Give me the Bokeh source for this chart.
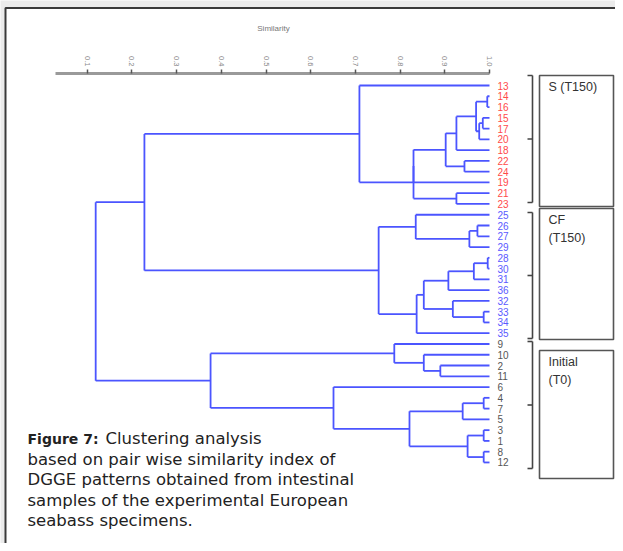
import math
from bokeh.plotting import figure
from bokeh.models import Range1d, LinearAxis, FixedTicker, NumeralTickFormatter
from bokeh.core.properties import value
from bokeh.embed import file_html
from bokeh.resources import INLINE

# ---------------- data ----------------
leaf_order = ["13", "14", "16", "15", "17", "20", "18", "22", "24", "19", "21", "23",
              "25", "26", "27", "29", "28", "30", "31", "36", "32", "33", "34", "35",
              "9", "10", "2", "11", "6", "4", "7", "5", "3", "1", "8", "12"]
group_S = ["13", "14", "15", "16", "17", "18", "19", "20", "21", "22", "23", "24"]
group_CF = ["25", "26", "27", "28", "29", "30", "31", "32", "33", "34", "35", "36"]
group_init = ["1", "2", "3", "4", "5", "6", "7", "8", "9", "10", "11", "12"]

# merges: (node, child a, child b, similarity)
merges = [
    ("m1", "14", "16", 0.995), ("m2", "15", "17", 0.985), ("m3", "m2", "20", 0.977),
    ("m4", "m1", "m3", 0.970), ("m5", "m4", "18", 0.926), ("m6", "22", "24", 0.944),
    ("m7", "m5", "m6", 0.902), ("m8", "m7", "19", 0.830), ("m9", "21", "23", 0.926),
    ("m10", "m8", "m9", 0.830), ("m11", "13", "m10", 0.709),
    ("c1", "26", "27", 0.973), ("c2", "c1", "29", 0.955), ("c3", "25", "c2", 0.835),
    ("c4", "28", "30", 0.996), ("c5", "c4", "31", 0.965), ("c6", "c5", "36", 0.908),
    ("c7", "33", "34", 0.987), ("c8", "32", "c7", 0.918), ("c9", "c6", "c8", 0.853),
    ("c10", "c9", "35", 0.837), ("c11", "c3", "c10", 0.752),
    ("sc", "m11", "c11", 0.228),
    ("i1", "2", "11", 0.890), ("i2", "10", "i1", 0.853), ("i3", "9", "i2", 0.787),
    ("i4", "4", "7", 0.987), ("i5", "i4", "5", 0.940), ("i6", "3", "1", 0.987),
    ("i7", "8", "12", 0.987), ("i8", "i6", "i7", 0.951), ("i9", "i5", "i8", 0.821),
    ("i10", "6", "i9", 0.651), ("i11", "i3", "i10", 0.376),
    ("root", "sc", "i11", 0.119),
]
sim_ticks = [0.1, 0.2, 0.3, 0.4, 0.5, 0.6, 0.7, 0.8, 0.9, 1.0]
group_names = [["S (T150)"], ["CF", "(T150)"], ["Initial", "(T0)"]]
caption_bold = "Figure 7:"
caption_lines = ["Clustering analysis",
                 "based on pair wise similarity index of",
                 "DGGE patterns obtained from intestinal",
                 "samples of the experimental European",
                 "seabass specimens."]

# ---------------- layout helpers ----------------
W, H = 615, 543
PX_PER_UNIT = 447.0      # pixels per 1.0 similarity
ROW = 10.77              # pixels per leaf row
def px2x(px):            # picture pixel -> similarity coordinate
    return 0.1 + (px - 86.7) / PX_PER_UNIT
def py2y(py):            # picture pixel -> row coordinate
    return (py - 85.0) / ROW

p = figure(width=W, height=H, output_backend="svg", toolbar_location=None,
           x_axis_type=None, y_axis_type=None,
           x_range=Range1d(px2x(0), px2x(W)),
           y_range=Range1d(py2y(H), py2y(0)),
           min_border=0, min_border_left=0, min_border_right=0,
           min_border_top=0, min_border_bottom=0)
p.outline_line_color = None
p.grid.visible = False
p.background_fill_color = "#ebebeb"
p.border_fill_color = "#ebebeb"

# white panel with dark border (right/bottom edges lie outside the picture)
p.quad(left=[px2x(5)], right=[px2x(900)], top=[py2y(7.5)], bottom=[py2y(900)],
       fill_color="white", line_color="#3a3a3a", line_width=2)

# ---------------- dendrogram ----------------
ypos = {lab: i for i, lab in enumerate(leaf_order)}
xpos = {lab: 1.0 for lab in leaf_order}
x0, y0, x1, y1 = [], [], [], []
for node, a, b, s in merges:
    ya, yb = ypos[a], ypos[b]
    x0 += [s, s, s]; x1 += [s, xpos[a], xpos[b]]
    y0 += [ya, ya, yb]; y1 += [yb, ya, yb]
    ypos[node] = (ya + yb) / 2.0
    xpos[node] = s
p.segment(x0=x0, y0=y0, x1=x1, y1=y1, line_color="#4b55ff", line_width=1.8)

# leaf labels
colors = []
for lab in leaf_order:
    if lab in group_S:
        colors.append("#ff4a4a")
    elif lab in group_CF:
        colors.append("#5a5aff")
    else:
        colors.append("#555555")
p.text(x=[px2x(497)] * len(leaf_order), y=list(range(len(leaf_order))), text=leaf_order,
       text_color=colors, text_font=value("Liberation Sans"), text_font_size="10px",
       text_baseline="middle", text_align="left")

# similarity axis
ax = LinearAxis(fixed_location=py2y(73), ticker=FixedTicker(ticks=sim_ticks),
                formatter=NumeralTickFormatter(format="0.0"),
                bounds=(px2x(55), 1.0),
                axis_line_color="#9a9a9a", axis_line_width=3,
                major_tick_line_color="#555555", major_tick_line_width=1.5,
                major_tick_out=4, major_tick_in=0,
                minor_tick_line_color=None,
                major_label_orientation=-math.pi / 2,
                major_label_text_font="Liberation Sans",
                major_label_text_font_size="7.5px",
                major_label_text_color="#888888",
                major_label_standoff=3)
p.add_layout(ax, "above")
p.text(x=[px2x(273)], y=[py2y(28)], text=["Similarity"], text_color="#777777",
       text_font=value("Liberation Sans"), text_font_size="8px",
       text_align="center", text_baseline="middle")

# group brackets
br_top = [py2y(75), py2y(212), py2y(341)]
br_bot = [py2y(202), py2y(338), py2y(468)]
bx, bxt = px2x(532), px2x(527)
sx0, sy0, sx1, sy1 = [], [], [], []
for t, b in zip(br_top, br_bot):
    m = (t + b) / 2.0
    sx0 += [bx, bxt, bxt, bxt]; sx1 += [bx, bx, bx, bx]
    sy0 += [t, t, b, m]; sy1 += [b, t, b, m]
p.segment(x0=sx0, y0=sy0, x1=sx1, y1=sy1, line_color="#444444", line_width=1.6)

# group boxes
box_top = [75, 208, 350]
box_bot = [206, 339, 478]
p.quad(left=[px2x(539)] * 3, right=[px2x(613)] * 3,
       top=[py2y(t) for t in box_top], bottom=[py2y(b) for b in box_bot],
       fill_color=None, line_color="#555555", line_width=1.6)
for names, t in zip(group_names, box_top):
    for k, name in enumerate(names):
        p.text(x=[px2x(548)], y=[py2y(t + 11 + 18 * k)], text=[name],
               text_color="#333333", text_font=value("Liberation Sans"),
               text_font_size="12.5px", text_baseline="middle", text_align="left")

# caption
cap_x = px2x(27)
cap_y0 = py2y(438)
cap_dy = 20.5 / ROW
p.text(x=[px2x(98)], y=[cap_y0], text=[caption_bold], text_color="#222222",
       text_font=value("DejaVu Sans"), text_font_size="14px", text_font_style="bold",
       text_baseline="middle", text_align="right")
p.text(x=[px2x(105)], y=[cap_y0], text=[caption_lines[0]], text_color="#222222",
       text_font=value("DejaVu Sans"), text_font_size="16.5px",
       text_baseline="middle", text_align="left")
p.text(x=[cap_x] * 4, y=[cap_y0 + cap_dy * k for k in range(1, 5)], text=caption_lines[1:],
       text_color="#222222", text_font=value("DejaVu Sans"), text_font_size="16.5px",
       text_baseline="middle", text_align="left")

open("out.html", "w").write(file_html(p, INLINE))
